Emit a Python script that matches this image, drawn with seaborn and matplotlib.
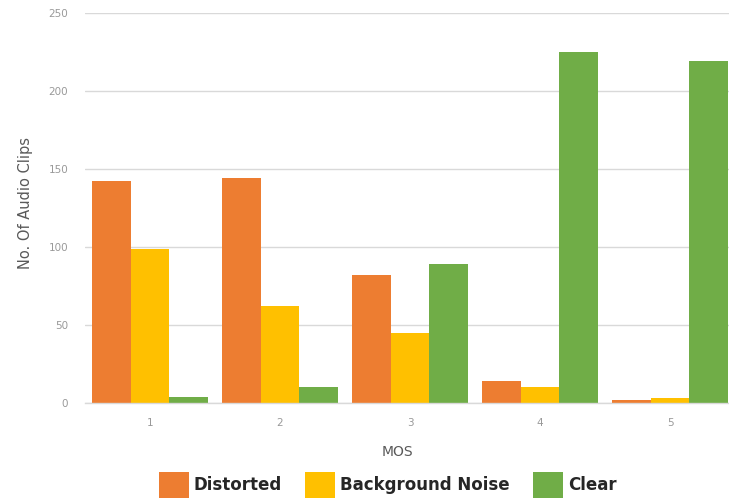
import matplotlib
matplotlib.use("Agg")
import matplotlib.pyplot as plt
from matplotlib.patches import Patch
import pandas as pd
import seaborn as sns

# Number of audio clips per MOS score, split by clip condition
mos_scores = ["1", "2", "3", "4", "5"]
distorted = [142, 144, 82, 14, 2]
background_noise = [99, 62, 45, 10, 3]
clear = [4, 10, 89, 225, 219]
series_names = ["Distorted", "Background Noise", "Clear"]
series_colors = ["#ED7D31", "#FFC000", "#70AD47"]
y_ticks = [0, 50, 100, 150, 200, 250]

df = pd.DataFrame({
    "MOS": mos_scores * 3,
    "count": distorted + background_noise + clear,
    "type": [series_names[0]] * 5 + [series_names[1]] * 5 + [series_names[2]] * 5,
})

sns.set_theme(style="white")
plt.rcParams["font.family"] = ["DejaVu Sans"]

fig = plt.figure(figsize=(7.29, 5.01), dpi=100)
ax = fig.add_axes([85 / 729, 98 / 501, 650 / 729, 390 / 501])

sns.barplot(
    data=df, x="MOS", y="count", hue="type", order=mos_scores,
    hue_order=series_names, palette=series_colors, width=0.89,
    saturation=1, linewidth=0, ax=ax, legend=False,
)

ax.set_xlim(-0.5, 4.5)
ax.set_ylim(0, 250)
ax.set_yticks(y_ticks)
ax.set_yticklabels([str(v) for v in y_ticks])
ax.yaxis.grid(True, color="#D9D9D9", linewidth=1.0)
ax.set_axisbelow(True)
for side in ["top", "right", "left"]:
    ax.spines[side].set_visible(False)
ax.spines["bottom"].set_color("#D9D9D9")
ax.spines["bottom"].set_linewidth(1.0)

ax.tick_params(axis="both", length=0, labelsize=7.5, labelcolor="#999999")
ax.tick_params(axis="y", pad=12)
ax.tick_params(axis="x", pad=11)

ax.set_ylabel("No. Of Audio Clips", fontsize=10.5, color="#595959")
ax.yaxis.set_label_coords(-0.08, 0.513)
ax.set_xlabel("MOS", fontsize=10, color="#595959")
ax.xaxis.set_label_coords(0.48, -0.108)

handles = [Patch(facecolor=c, edgecolor="none", label=n)
           for n, c in zip(series_names, series_colors)]
leg = fig.legend(
    handles=handles, loc="center", bbox_to_anchor=(0.532, 0.032), ncol=3,
    frameon=False, borderpad=0, handlelength=1.8, handleheight=2.0,
    handletextpad=0.3, columnspacing=1.4,
    prop={"size": 12, "weight": "bold"},
)
for t in leg.get_texts():
    t.set_color("#262626")

fig.savefig("out.png", dpi=100)
